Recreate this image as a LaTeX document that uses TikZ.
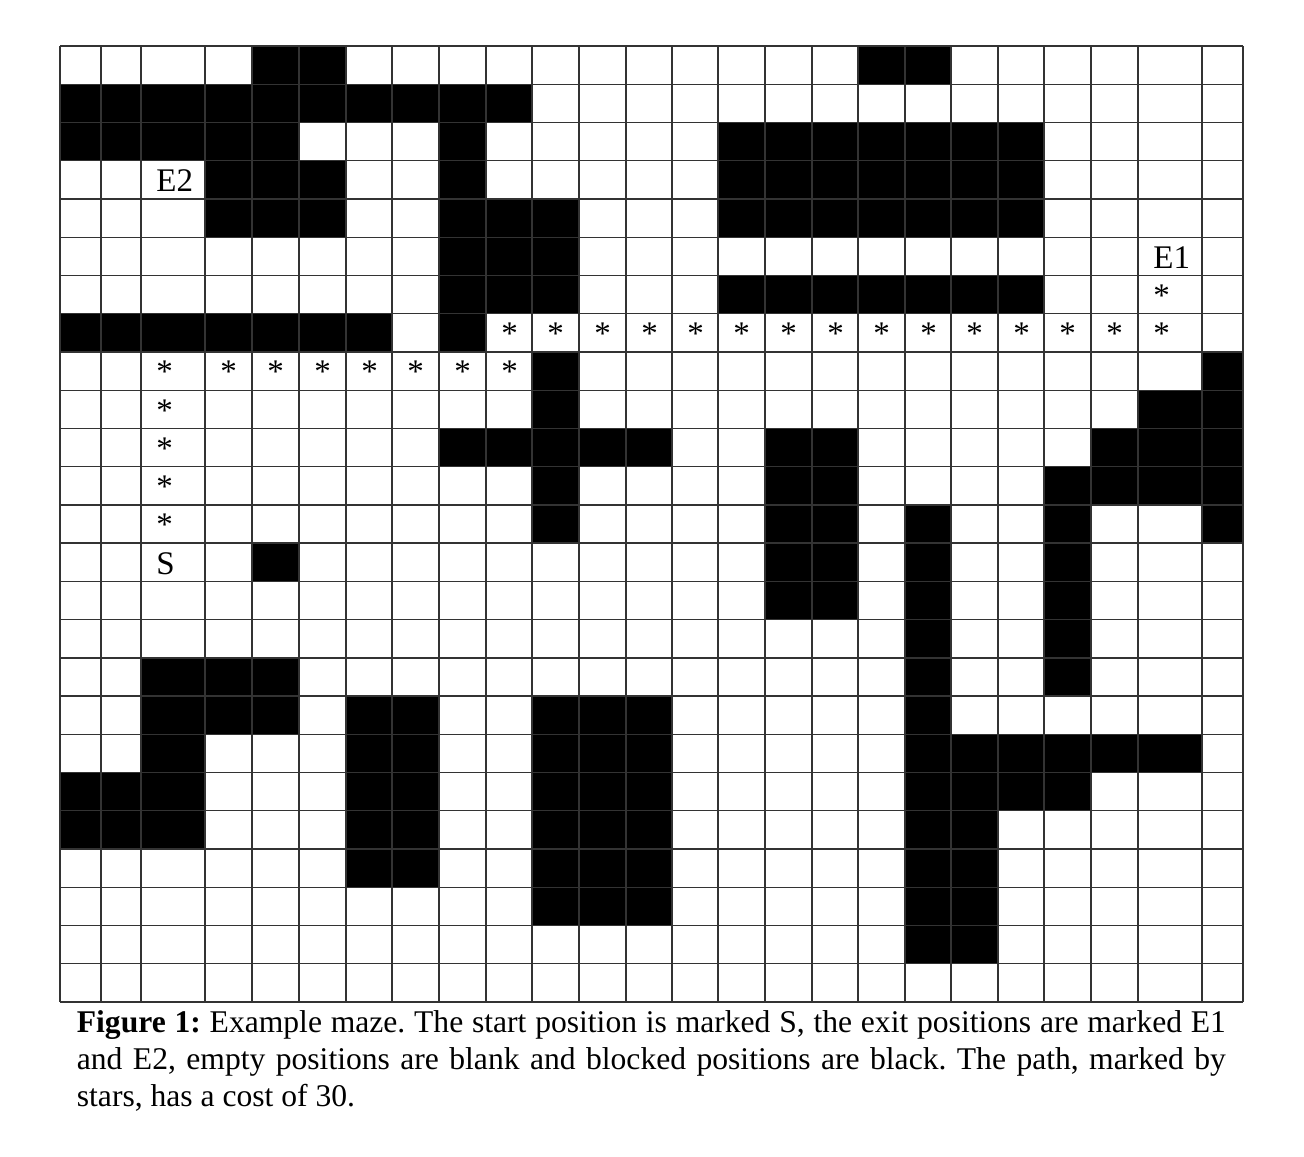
\documentclass[tikz,border=0pt]{standalone}
\usepackage{fontspec}
\setmainfont{Liberation Serif}
\frenchspacing
\def\colx{{60,101,141,205,252,299,346,392,439,486,532,579,626,672,718,765,812,858,905,951,998,1044,1091,1138,1202,1243}}
\newcommand\blackrow[2]{\foreach \c in {#2}{\pgfmathsetmacro\xa{\colx[\c]}\pgfmathsetmacro\xb{\colx[\c+1]}\fill[cellfill] (\xa,{46+#1*38.24}) rectangle (\xb,{46+(#1+1)*38.24});}}
\newcommand\placetext[4]{\pgfmathsetmacro\xa{\colx[#2]+15}\pgfmathsetmacro\ya{46+#1*38.24+31}\node[lbl] (#3) at (\xa,\ya) {#4};}
\begin{document}
\begin{tikzpicture}[x=0.5pt,y=-0.5pt,
  cellfill/.style={fill=black},
  gridline/.style={draw=black!80,line width=0.65pt},
  lbl/.style={anchor=base west,inner sep=0pt,font=\fontsize{16.5}{19}\selectfont},
  captionline/.style={anchor=base west,inner sep=0pt,font=\fontsize{15.8}{18}\selectfont}]
\useasboundingbox (0,0) rectangle (1304,1156);
\fill[white] (0,0) rectangle (1304,1156);
% blocked cells
\blackrow{0}{4,5,17,18}
\blackrow{1}{0,1,2,3,4,5,6,7,8,9}
\blackrow{2}{0,1,2,3,4,8,14,15,16,17,18,19,20}
\blackrow{3}{3,4,5,8,14,15,16,17,18,19,20}
\blackrow{4}{3,4,5,8,9,10,14,15,16,17,18,19,20}
\blackrow{5}{8,9,10}
\blackrow{6}{8,9,10,14,15,16,17,18,19,20}
\blackrow{7}{0,1,2,3,4,5,6,8}
\blackrow{8}{10,24}
\blackrow{9}{10,23,24}
\blackrow{10}{8,9,10,11,12,15,16,22,23,24}
\blackrow{11}{10,15,16,21,22,23,24}
\blackrow{12}{10,15,16,18,21,24}
\blackrow{13}{4,15,16,18,21}
\blackrow{14}{15,16,18,21}
\blackrow{15}{18,21}
\blackrow{16}{2,3,4,18,21}
\blackrow{17}{2,3,4,6,7,10,11,12,18}
\blackrow{18}{2,6,7,10,11,12,18,19,20,21,22,23}
\blackrow{19}{0,1,2,6,7,10,11,12,18,19,20,21}
\blackrow{20}{0,1,2,6,7,10,11,12,18,19}
\blackrow{21}{6,7,10,11,12,18,19}
\blackrow{22}{10,11,12,18,19}
\blackrow{23}{18,19}
% grid
\foreach \c in {0,...,25}{\pgfmathsetmacro\xa{\colx[\c]}\draw[gridline] (\xa,46) -- (\xa,1002);}
\foreach \r in {0,...,25}{\draw[gridline] (60,{46+\r*38.24}) -- (1243,{46+\r*38.24});}
% labels
\placetext{3}{2}{e2}{E2}
\placetext{5}{23}{e1}{E1}
\placetext{13}{2}{s}{S}
% path stars
\placetext{6}{23}{st6-23}{*}
\foreach \c in {9,...,23}{\placetext{7}{\c}{st7-\c}{*}}
\foreach \c in {2,...,9}{\placetext{8}{\c}{st8-\c}{*}}
\foreach \r in {9,...,12}{\placetext{\r}{2}{st\r-2}{*}}
% caption
\node[captionline] (cap1) at (76.5,1032.5) {\makebox[574.5pt][s]{\textbf{Figure 1:} Example maze. The start position is marked S, the exit positions are marked E1}};
\node[captionline] (cap2) at (76.5,1069.5) {\makebox[574.5pt][s]{and E2, empty positions are blank and blocked positions are black. The path, marked by}};
\node[captionline] (cap3) at (76.5,1106.5) {stars, has a cost of 30.};
\end{tikzpicture}
\end{document}
